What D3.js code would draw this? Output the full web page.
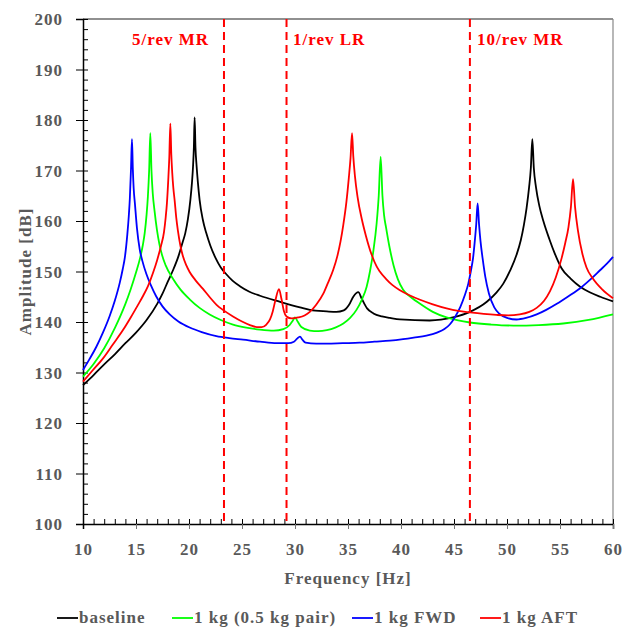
<!DOCTYPE html>
<html>
<head>
<meta charset="utf-8">
<script src="https://cdn.jsdelivr.net/npm/d3@7"></script>
<style>
  body { margin: 0; background: #fff; }
  text { font-family: "Palatino Linotype", "Book Antiqua", Palatino, "Liberation Serif", serif; font-weight: bold; }
  .wide { letter-spacing: 1px; }
</style>
</head>
<body>
<div id="chart"></div>
<script>
var width = 623;
var height = 628;
var margin = {top: 19, right: 10, bottom: 104, left: 83};

// frequency [Hz], amplitude [dB]
var baseline = [[10,127.5],[11,129.5],[12,131.6],[13,133.6],[14,135.8],[15,137.9],[16,140.4],[17,143.6],[17.5,145.6],[18,148.0],[18.5,150.3],[19,153.0],[19.4,155.8],[19.65,157.6],[19.9,160.4],[20.13,164.2],[20.28,167.6],[20.38,170.8],[20.46,174.6],[20.53,180.5],[20.61,174.6],[20.72,170.8],[20.84,167.6],[21.0,164.2],[21.3,160.3],[21.63,157.6],[22.0,155.2],[22.5,152.7],[23.0,150.8],[23.5,149.5],[24.1,148.2],[24.8,147.1],[25.7,146.0],[26.7,145.2],[28.6,144.0],[30.47,142.9],[31.4,142.4],[33.0,142.1],[33.9,142.0],[34.6,142.3],[35.1,143.4],[35.5,145.0],[35.97,145.9],[36.3,144.6],[36.8,142.7],[37.4,141.7],[38.2,141.1],[38.96,140.8],[39.9,140.5],[42.7,140.3],[44.9,140.9],[46.5,142.0],[48.1,144.0],[49.0,145.8],[49.65,147.6],[50.3,150.2],[50.9,153.3],[51.3,156.2],[51.6,159.3],[51.85,162.6],[52.08,166.6],[52.25,170.5],[52.39,176.2],[52.53,170.5],[52.74,166.6],[53.05,163.0],[53.43,160.0],[54.0,156.4],[54.5,153.6],[55.16,150.6],[56.0,148.6],[56.9,147.0],[57.8,145.9],[58.8,145.0],[60,144.1]];
var halfKgPair = [[10,129.2],[11,131.7],[12,134.8],[13,138.8],[14,143.6],[14.5,146.5],[15.0,149.8],[15.4,152.8],[15.65,155.3],[15.82,157.6],[16.0,161.3],[16.12,164.8],[16.24,170.0],[16.35,177.4],[16.46,170.0],[16.58,165.5],[16.75,162.0],[16.98,158.2],[17.2,155.5],[17.45,153.3],[17.8,151.2],[18.5,148.5],[19.2,146.4],[20.06,144.5],[21.0,142.8],[21.95,141.5],[23.0,140.4],[24.15,139.5],[25.4,138.9],[26.7,138.5],[28.0,138.3],[28.9,138.6],[29.5,139.4],[29.8,140.3],[30.0,140.9],[30.25,140.1],[30.6,139.0],[31.4,138.3],[32.2,138.2],[33.0,138.4],[33.8,138.9],[34.56,139.7],[35.2,140.8],[35.8,142.4],[36.3,144.4],[36.76,147.0],[37.08,150.1],[37.4,154.2],[37.7,159.5],[37.9,165.0],[38.08,172.7],[38.25,165.0],[38.4,161.2],[38.6,158.6],[38.9,155.0],[39.3,151.2],[39.7,148.5],[40.2,146.4],[41.0,144.8],[41.8,143.6],[43.0,142.0],[44.3,140.9],[45.4,140.3],[46.5,139.9],[48.5,139.5],[50.6,139.3],[53.0,139.4],[55.3,139.7],[57.7,140.4],[60,141.5]];
var fwd = [[10,130.5],[10.6,132.6],[11.26,135.1],[11.9,138.0],[12.5,141.1],[13.0,144.2],[13.46,147.7],[13.75,150.5],[13.95,152.8],[14.18,157.3],[14.32,161.0],[14.42,164.5],[14.53,170.4],[14.62,176.2],[14.7,170.4],[14.78,166.5],[14.9,163.4],[15.09,158.6],[15.35,154.4],[15.6,152.1],[15.98,149.5],[16.4,147.3],[16.9,145.1],[17.5,143.1],[18.18,141.5],[19.0,140.1],[20.06,138.9],[21.2,138.0],[22.58,137.2],[23.8,136.8],[25.1,136.5],[26.7,136.1],[28.27,135.8],[29.37,135.8],[29.9,136.1],[30.2,136.7],[30.47,137.1],[30.7,136.5],[31.0,135.9],[32.0,135.7],[33.0,135.7],[34.5,135.8],[36.1,135.9],[37.5,136.1],[38.96,136.3],[40.2,136.6],[41.2,136.9],[42.4,137.3],[43.4,137.9],[44.1,138.6],[44.6,139.5],[45.1,141.0],[45.6,143.0],[46.0,145.2],[46.35,147.6],[46.6,150.2],[46.8,152.7],[46.97,156.2],[47.1,159.4],[47.23,163.5],[47.36,159.4],[47.5,156.0],[47.7,152.6],[47.95,149.0],[48.3,145.6],[48.8,142.9],[49.3,141.6],[50.0,140.8],[50.9,140.5],[51.8,140.8],[52.8,141.5],[53.7,142.4],[54.7,143.6],[55.8,145.1],[56.9,146.7],[57.9,148.5],[58.8,150.3],[59.4,151.5],[60,152.9]];
var aft = [[10,128.2],[10.9,130.4],[11.89,132.8],[12.8,135.5],[13.77,138.4],[14.5,140.9],[15.19,143.4],[15.7,145.3],[16.13,147.1],[16.6,149.7],[17.0,152.3],[17.35,155.0],[17.64,157.8],[17.8,160.7],[17.92,163.6],[18.04,168.0],[18.14,172.5],[18.24,179.3],[18.33,173.2],[18.42,169.5],[18.52,166.6],[18.65,164.0],[18.8,160.6],[18.96,158.0],[19.2,155.0],[19.43,153.0],[19.75,151.2],[20.06,149.9],[20.6,148.3],[21.3,146.6],[22.0,144.8],[22.6,143.4],[23.2,142.4],[24.15,141.1],[25.0,140.1],[25.75,139.4],[26.4,139.0],[26.86,139.0],[27.3,139.5],[27.64,140.5],[27.9,142.1],[28.15,144.3],[28.49,146.5],[28.72,144.6],[28.95,142.2],[29.2,141.1],[29.69,140.7],[30.3,140.9],[30.9,141.3],[31.4,142.0],[32.0,143.4],[32.67,145.6],[33.1,147.7],[33.6,150.3],[34.0,153.1],[34.3,156.0],[34.56,159.3],[34.85,163.8],[35.08,168.6],[35.24,172.5],[35.38,177.4],[35.5,172.8],[35.65,169.0],[35.9,164.8],[36.3,160.4],[36.7,157.0],[37.2,153.5],[37.7,151.0],[38.0,150.0],[38.6,148.5],[39.2,147.3],[39.9,146.3],[40.8,145.3],[41.8,144.4],[43.0,143.5],[44.3,142.7],[45.4,142.2],[46.5,141.9],[47.8,141.6],[49.0,141.4],[50.1,141.3],[51.2,141.5],[52.1,142.0],[52.8,142.8],[53.5,144.2],[54.06,146.1],[54.6,148.8],[55.16,152.7],[55.5,155.7],[55.8,158.8],[56.03,162.8],[56.23,168.3],[56.42,162.8],[56.7,158.0],[57.1,153.6],[57.5,150.8],[58.1,148.6],[59.0,146.4],[60,144.7]];

var seriesNames = ["baseline", "1 kg (0.5 kg pair)", "1 kg FWD", "1 kg AFT"];
var seriesColors = ["#000000", "#00ff00", "#0000ff", "#ff0000"];
var seriesData = [baseline, halfKgPair, fwd, aft];

var markerFreqs = [23.3, 29.2, 46.5];
var markerLabels = ["5/rev MR", "1/rev LR", "10/rev MR"];

var xTicks = [10, 15, 20, 25, 30, 35, 40, 45, 50, 55, 60];
var yTicks = [100, 110, 120, 130, 140, 150, 160, 170, 180, 190, 200];

var svg = d3.select("#chart").append("svg")
    .attr("width", width)
    .attr("height", height);

var x = d3.scaleLinear().domain([10, 60]).range([margin.left, width - margin.right]);
var y = d3.scaleLinear().domain([100, 200]).range([height - margin.bottom, margin.top]);

var gray = "#595959";

// frame (top + right)
svg.append("line")
    .attr("x1", x(10)).attr("x2", x(60))
    .attr("y1", y(200)).attr("y2", y(200))
    .attr("stroke", "#222").attr("stroke-width", 1.2);
svg.append("line")
    .attr("x1", x(60)).attr("x2", x(60))
    .attr("y1", y(200)).attr("y2", y(100))
    .attr("stroke", "#888").attr("stroke-width", 1.2);

// minor ticks (inside)
svg.append("g")
    .attr("transform", "translate(0," + y(100) + ")")
    .call(d3.axisBottom(x).ticks(50).tickSize(-5).tickFormat(""))
    .call(function(g) { g.select(".domain").remove(); });
svg.append("g")
    .attr("transform", "translate(" + x(10) + ",0)")
    .call(d3.axisLeft(y).ticks(50).tickSize(-5).tickFormat(""))
    .call(function(g) { g.select(".domain").remove(); });

// major ticks + labels
var xAxis = svg.append("g")
    .attr("transform", "translate(0," + y(100) + ")")
    .call(d3.axisBottom(x).tickValues(xTicks).tickSize(5).tickPadding(14));
var yAxis = svg.append("g")
    .attr("transform", "translate(" + x(10) + ",0)")
    .call(d3.axisLeft(y).tickValues(yTicks).tickSize(7).tickPadding(13));

[xAxis, yAxis].forEach(function(g) {
  g.selectAll("text").attr("fill", gray).style("font-size", "17px")
      .style("font-family", null).attr("class", "wide");
  g.select(".domain").attr("stroke", "#000").attr("stroke-width", 1.5);
});
xAxis.selectAll("text").attr("dy", "0.71em");
yAxis.selectAll("text").attr("dy", "0.35em");
svg.selectAll(".tick line").attr("stroke", "#000");
xAxis.selectAll(".tick").filter(function(d) { return d !== 10; }).select("line").attr("stroke", "#777");

// axis titles
svg.append("text")
    .attr("class", "wide")
    .attr("x", (x(10) + x(60)) / 2)
    .attr("y", 584)
    .attr("text-anchor", "middle")
    .attr("fill", gray)
    .style("font-size", "17px")
    .text("Frequency [Hz]");
svg.append("text")
    .attr("class", "wide")
    .attr("transform", "translate(31," + ((y(100) + y(200)) / 2) + ") rotate(-90)")
    .attr("text-anchor", "middle")
    .attr("fill", gray)
    .style("font-size", "17px")
    .text("Amplitude [dB]");

// curves
var line = d3.line()
    .x(function(d) { return x(d[0]); })
    .y(function(d) { return y(d[1]); })
    .curve(d3.curveMonotoneX);

svg.append("g").selectAll("path")
    .data(seriesData)
    .join("path")
    .attr("d", line)
    .attr("fill", "none")
    .attr("stroke", function(d, i) { return seriesColors[i]; })
    .attr("stroke-width", 1.8)
    .attr("stroke-linejoin", "round");

// rotor harmonic markers
svg.append("g").selectAll("line")
    .data(markerFreqs)
    .join("line")
    .attr("x1", function(d) { return x(d); })
    .attr("x2", function(d) { return x(d); })
    .attr("y1", y(200))
    .attr("y2", y(100))
    .attr("stroke", "#ff0000")
    .attr("stroke-width", 2)
    .attr("stroke-dasharray", "8,5");

var labelX = [132, 293, 477];
svg.append("g").selectAll("text")
    .data(markerLabels)
    .join("text")
    .attr("class", "wide")
    .attr("x", function(d, i) { return labelX[i]; })
    .attr("y", 45)
    .attr("fill", "#ff0000")
    .style("font-size", "17px")
    .text(function(d) { return d; });

// legend
var legendX = [57, 172, 352, 480];
var legend = svg.append("g").attr("transform", "translate(0,623)");
var items = legend.selectAll("g")
    .data(seriesNames)
    .join("g")
    .attr("transform", function(d, i) { return "translate(" + legendX[i] + ",0)"; });
items.append("line")
    .attr("x1", 0).attr("x2", 21)
    .attr("y1", -5).attr("y2", -5)
    .attr("stroke", function(d, i) { return seriesColors[i]; })
    .attr("stroke-width", 1.8);
items.append("text")
    .attr("class", "wide")
    .attr("x", 22)
    .attr("fill", gray)
    .style("font-size", "17px")
    .text(function(d) { return d; });
</script>
</body>
</html>
